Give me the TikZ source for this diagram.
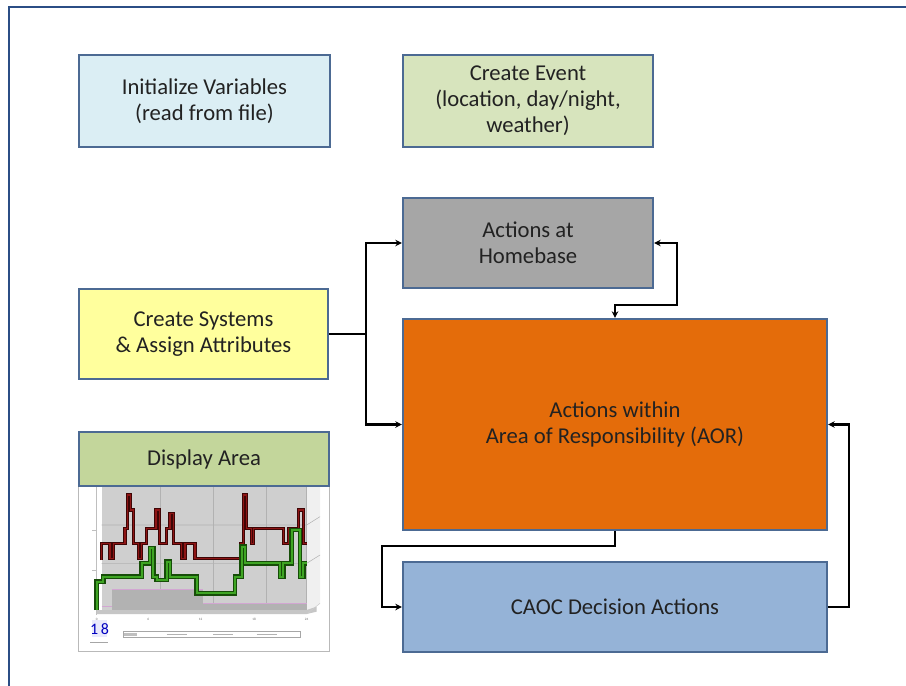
\documentclass[tikz,border=0pt]{standalone}
\usepackage{fontspec}
\setmainfont{Carlito}
\usetikzlibrary{arrows.meta}
\definecolor{frameblue}{HTML}{2B4E85}
\definecolor{boxborder}{HTML}{4C6A93}
\definecolor{txt}{HTML}{222222}
\definecolor{cinit}{HTML}{DBEEF4}
\definecolor{cevent}{HTML}{D7E4BD}
\definecolor{chome}{HTML}{A6A6A6}
\definecolor{csys}{HTML}{FFFF9D}
\definecolor{caor}{HTML}{E46C0A}
\definecolor{cdisp}{HTML}{C3D69B}
\definecolor{ccaoc}{HTML}{95B3D7}
\definecolor{redline}{HTML}{8E1515}
\definecolor{reddark}{HTML}{3E0505}
\definecolor{greenline}{HTML}{3FA524}
\definecolor{greendark}{HTML}{164D08}
\tikzset{
  box/.style={draw=boxborder, line width=1.6pt, text=txt, align=center,
    font=\fontsize{17}{19.5}\selectfont, inner sep=0pt},
  conn/.style={draw=black, line width=1.9pt},
  tip/.style={-{Stealth[length=5pt,width=5pt]}},
  tips/.style={{Stealth[length=5pt,width=5pt]}-{Stealth[length=5pt,width=5pt]}}
}
\begin{document}
\begin{tikzpicture}[x=0.75pt,y=-0.75pt]
\useasboundingbox (0,0) rectangle (906,685);
\fill[white] (0,0) rectangle (906,685);
% outer frame (open at right and bottom)
\begin{scope}
\clip (0,0) rectangle (906,685);
\draw[frameblue, line width=2pt] (9,690) -- (9,7) -- (910,7);
\end{scope}

% boxes
\node[box, fill=cinit, minimum width=188.25pt, minimum height=69pt] (init) at (204.5,101) {Initialize Variables\\(read from file)};
\node[box, fill=cevent, minimum width=187.5pt, minimum height=69pt] (event) at (528,101) {Create Event\\(location, day/night,\\weather)};
\node[box, fill=chome, minimum width=187.5pt, minimum height=67.5pt] (home) at (528,243) {Actions at\\Homebase};
\node[box, fill=csys, minimum width=186.75pt, minimum height=67.5pt] (sys) at (203.5,334) {Create Systems\\\& Assign Attributes};
\node[box, fill=caor, minimum width=318pt, minimum height=158.25pt] (aor) at (615,424.5) {Actions within\\Area of Responsibility (AOR)};
\node[box, fill=ccaoc, minimum width=318pt, minimum height=67.5pt] (caoc) at (615,607) {CAOC Decision Actions};

% chart (display area)
\begin{scope}[shift={(70,430)}, x=0.25pt, y=-0.25pt]
  \draw[gray!55, fill=white, line width=0.6pt] (25,150) rectangle (778,665);
  \fill[gray!38] (95,165) rectangle (710,550);
  \fill[gray!12] (710,165) -- (750,150) -- (750,520) -- (710,550) -- cycle;
  \draw[gray!60, line width=0.4pt] (710,165) -- (710,550);
  \foreach \gx in {270,430,590} \draw[gray!60, line width=0.4pt] (\gx,165) -- (\gx,550);
  \foreach \gy in {285,400} \draw[gray!60, line width=0.4pt] (95,\gy) -- (710,\gy) -- (750,\gy-25);
  \draw[gray!50, line width=0.4pt] (80,170) -- (80,555);
  \foreach \gy in {300,420} \draw[gray!50, line width=0.4pt] (66,\gy) -- (80,\gy);
  % floor and blocks
  \fill[gray!60] (125,480) rectangle (400,540);
  \fill[gray!60] (400,522) rectangle (710,540);
  \draw[violet!35, line width=0.8pt] (95,530) -- (125,530) (125,478) -- (400,478) (400,520) -- (710,520);
  \fill[gray!45] (80,540) -- (710,540) -- (740,530) -- (740,545) -- (710,552) -- (80,552) -- cycle;
  \draw[gray!40, line width=0.4pt] (710,552) -- (750,520);
  % red line
  \def\redpath{(95,390)--(95,340)--(120,340)--(120,385)--(130,385)--(130,340)--(165,340)--(165,295)--(172,295)--(172,195)--(182,195)--(182,240)--(190,240)--(190,340)--(205,340)--(205,385)--(215,385)--(215,340)--(230,340)--(230,295)--(258,295)--(258,240)--(268,240)--(268,340)--(290,340)--(290,295)--(300,295)--(300,250)--(310,250)--(310,340)--(335,340)--(335,385)--(345,385)--(345,340)--(375,340)--(375,385)--(512,385)--(512,340)--(520,340)--(520,195)--(530,195)--(530,295)--(545,295)--(545,340)--(550,340)--(550,295)--(640,295)--(640,340)--(655,340)--(655,295)--(685,295)--(685,240)--(700,240)--(700,340)--(710,340)}
  \draw[reddark, line width=2.6pt, line join=miter] \redpath;
  \draw[redline, line width=1.2pt, line join=miter] \redpath;
  % green line
  \def\greenpath{(80,540)--(80,455)--(100,455)--(100,440)--(215,440)--(215,400)--(240,400)--(240,355)--(250,355)--(250,440)--(260,440)--(260,450)--(290,450)--(290,395)--(300,395)--(300,440)--(380,440)--(380,490)--(495,490)--(495,440)--(515,440)--(515,350)--(525,350)--(525,400)--(630,400)--(630,440)--(640,440)--(640,400)--(665,400)--(665,300)--(690,300)--(690,440)--(700,440)--(700,400)--(710,400)}
  \draw[greendark, line width=3.6pt, line join=miter] \greenpath;
  \draw[greenline, line width=1.7pt, line join=miter] \greenpath;
  % axis labels
  \foreach \lx/\lt in {80/0,235/6,392/12,552/18,710/24}
    \node[font=\fontsize{2.5}{3}\selectfont, text=gray!80!black, inner sep=0pt] at (\lx,567) {\lt};
  % counter
  \fill[gray!30!blue!10] (65,570) rectangle (112,622);
  \node[font=\fontsize{12}{13}\selectfont\rmfamily, text=blue!75!black, inner sep=0pt] at (88.5,596) {1\,8};
  \draw[gray!70, line width=0.4pt] (60,636) -- (115,636);
  % legend
  \draw[gray!70, fill=white, line width=0.5pt] (160,605) rectangle (690,622);
  \fill[gray!50] (163,608) rectangle (200,619);
  \foreach \lx in {290,430,560} \draw[gray!60, line width=0.4pt] (\lx,613.5) -- (\lx+60,613.5);
\end{scope}
\node[box, fill=cdisp, minimum width=187.5pt, minimum height=40.5pt] (disp) at (204,459) {Display Area};

% connectors
\coordinate (j) at (366,334);
\draw[conn] (sys.east) -- (j);
\draw[conn, tip] (j) |- (home.west);
\draw[conn, tip] (j) |- (aor.west);
\coordinate (h1) at (677,305);
\draw[conn, tips] (home.east) -| (h1) -| (aor.north);
\coordinate (c1) at (382,546);
\draw[conn, tip] (aor.south) |- (c1) |- (caoc.west);
\coordinate (c2) at (849,424.5);
\draw[conn, tip] (caoc.east) -| (c2) -- (aor.east);
\end{tikzpicture}
\end{document}
